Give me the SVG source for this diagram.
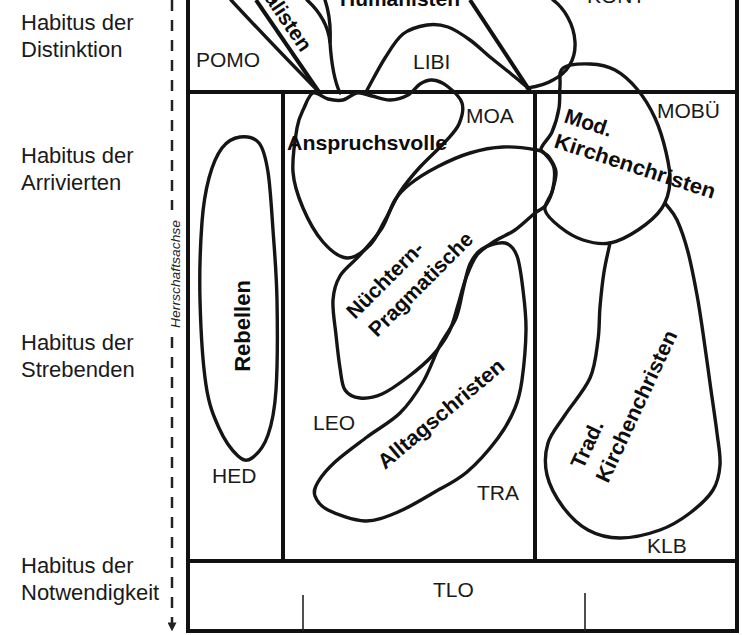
<svg xmlns="http://www.w3.org/2000/svg" width="742" height="635" viewBox="0 0 742 635">
<defs>
<style>
.frame{stroke:#111;stroke-width:4;fill:none;stroke-linecap:square}
.blob{stroke:#151515;stroke-width:3.4;fill:none;stroke-linejoin:round;stroke-linecap:round}
.tick{stroke:#222;stroke-width:1.6}
.axis{stroke:#222;stroke-width:2.5;stroke-dasharray:11 9;fill:none}
.lvl{font-family:"Liberation Sans",Arial,sans-serif;font-size:22px;fill:#1a1a1a}
.code{font-family:"Liberation Sans",Arial,sans-serif;font-size:21px;fill:#1a1a1a}
.type{font-family:"Liberation Sans",Arial,sans-serif;font-size:21px;font-weight:bold;fill:#0d0d0d}
.axl{font-family:"Liberation Sans",Arial,sans-serif;font-size:12px;font-style:italic;fill:#222}
</style>
<marker id="arr" viewBox="0 0 10 10" refX="4" refY="5" markerWidth="9" markerHeight="9" orient="auto" markerUnits="userSpaceOnUse">
<path d="M0,0 L10,5 L0,10 Z" style="fill:#222;stroke:none"/>
</marker>
</defs>
<rect x="0" y="0" width="742" height="635" fill="#fff"/>

<g id="levels">
<text class="lvl" x="21" y="30">Habitus der</text>
<text class="lvl" x="21" y="57">Distinktion</text>
<text class="lvl" x="21" y="163">Habitus der</text>
<text class="lvl" x="21" y="190">Arrivierten</text>
<text class="lvl" x="21" y="350">Habitus der</text>
<text class="lvl" x="21" y="377">Strebenden</text>
<text class="lvl" x="21" y="573">Habitus der</text>
<text class="lvl" x="21" y="600">Notwendigkeit</text>
</g>

<g id="connectors">
<line class="axis" x1="172" y1="0" x2="172" y2="210"/>
<line class="axis" x1="172" y1="337" x2="172" y2="626" marker-end="url(#arr)"/>
<text class="axl" transform="translate(180,274) rotate(-90)" text-anchor="middle" textLength="108" lengthAdjust="spacingAndGlyphs">Herrschaftsachse</text>
</g>

<g id="grid">
<line class="frame" x1="188" y1="0" x2="188" y2="631"/>
<line class="frame" x1="737" y1="0" x2="737" y2="631"/>
<line class="frame" x1="188" y1="92" x2="737" y2="92"/>
<line class="frame" x1="283" y1="92" x2="283" y2="561"/>
<line class="frame" x1="535" y1="92" x2="535" y2="561"/>
<line class="frame" x1="188" y1="561" x2="737" y2="561"/>
<line class="frame" x1="188" y1="631" x2="737" y2="631"/>
<line class="frame" x1="256" y1="0" x2="319" y2="92" style="stroke-linecap:butt"/>
<line class="frame" x1="470" y1="0" x2="530" y2="91" style="stroke-linecap:butt"/>
<line class="tick" x1="303" y1="595" x2="303" y2="631"/>
<line class="tick" x1="585" y1="593" x2="585" y2="631"/>
</g>

<g id="zones">
<text class="code" x="196" y="67">POMO</text>
<text class="code" x="413" y="69">LIBI</text>
<text class="code" x="587" y="3">KONT</text>
<text class="code" x="466" y="123">MOA</text>
<text class="code" x="657" y="118">MOBÜ</text>
<text class="code" x="313" y="430">LEO</text>
<text class="code" x="212" y="483">HED</text>
<text class="code" x="477" y="500">TRA</text>
<text class="code" x="647" y="553">KLB</text>
<text class="code" x="433" y="597">TLO</text>
</g>

<g id="alisten">
<path class="blob" d="M231,0 Q270,42 318,91"/>
<text class="type" transform="translate(264,-2) rotate(56)">alisten</text>
</g>

<g id="humanisten">
<path class="blob" d="M307,0 C318,10 328,25 330,42 C331,58 333,78 340,93"/>
<path class="blob" d="M325,0 C329,12 331,25 330,42"/>
<path class="blob" d="M553,0 C564,8 574,24 575,42 C576,60 567,73 553,80 C543,86 534,87 527,88"/>
<text class="type" x="340" y="6" textLength="120" lengthAdjust="spacingAndGlyphs">Humanisten</text>
</g>

<g id="libi-hump">
<path class="blob" d="M366,92 C372.3,80.7 378.8,67.7 385,58 S396,39.5 403,34 S419.5,26.2 427,25 S440.8,24.5 448,27 S463,35 470,40 S483.3,51.5 490,57 S503.8,68 510,73 S521.3,82.3 527,87"/>
</g>

<g id="rebellen">
<path class="blob" d="M240,137 C246.2,136.2 254.3,137.2 259,143 S265.7,157.5 268,172 S271.5,208.7 273,230 S276.5,273.3 277,300 S277.5,367.5 276,390 S272,423.7 268,435 S257,454.5 252,458 S243.5,461 238,456 S224.3,439.8 219,428 S209.2,406.3 206,385 S200.7,327.2 200,300 S200.5,242.3 202,222 S205.7,190.3 209,178 S216.8,154.8 222,148 S233.8,137.8 240,137 Z"/>
<text class="type" transform="translate(250,326) rotate(-90)" text-anchor="middle" style="font-size:22px">Rebellen</text>
</g>

<g id="anspruchsvolle">
<path class="blob" d="M313,93 C317,91.5 323,97.8 328,99 S338.2,101 343,100 S352.2,93.7 357,93 S366.5,94.8 372,96 S384,100.2 390,100 S403,97.7 408,95 S416,86.5 420,84 S427.5,79.7 432,80 S442,82.2 447,86 S460,96.7 462,103 S461.8,117.5 459,124 S451.5,134.8 445,142 S427.5,158.7 420,167 S405.8,183.2 400,192 S390,211.2 385,220 S376.3,238.7 370,245 S354.8,258.5 347,258 S330.3,250.3 323,242 S308,219.7 303,208 S294,185.3 293,172 S295.2,138.7 297,128 S301.3,113.8 304,108 S309,94.5 313,93 Z"/>
<text class="type" x="287" y="150" textLength="160" lengthAdjust="spacingAndGlyphs">Anspruchsvolle</text>
</g>

<g id="nuechtern">
<path class="blob" d="M537,150 C529.8,148.7 514.2,146.5 503,147 S481,149.7 470,153 S447,161.8 437,167 S417,178.5 410,184 S399.7,192.7 395,200 S387.8,218.8 382,228 S367,247 360,255 S344.5,268.5 340,276 S333.7,290.2 333,300 S334.8,323.7 336,335 S338.5,358.8 340,368 S341.7,385 345,390 S353.8,397.3 360,398 S374,397.5 382,394 S399.7,383.3 408,377 S425.2,363.5 432,356 S444.7,340.5 449,332 S455.2,314 458,305 S462.8,286.3 466,278 S472.2,261.2 477,255 S488.7,245.2 495,241 S508.3,234.7 515,230 S529.8,217.2 535,213 S543,209.2 546,205 S551.7,194.2 553,188 S555.2,173.5 554,168 S548.8,158 546,155 S544.2,151.3 537,150 Z"/>
<text class="type" transform="translate(355,320) rotate(-45)">Nüchtern-</text>
<text class="type" transform="translate(377,338) rotate(-45)">Pragmatische</text>
</g>

<g id="alltagschristen">
<path class="blob" d="M482,249 C487.8,245.5 499.2,241.8 505,243 S514,248.2 517,256 S521.5,277.7 523,290 S526.2,315 526,330 S523.8,367 522,380 S519,398.3 515,408 S506,427.3 498,438 S477.8,462.8 467,472 S444.5,486.3 433,493 S409.3,507.3 398,512 S376.7,521.3 365,521 S336.3,514.2 328,510 S316.7,500.7 315,496 S314.7,487.7 318,482 S326.8,469.5 335,462 S356.2,445.2 367,437 S390.7,422.2 400,413 S416.3,393.3 423,382 S434.5,355.7 440,345 S452.2,327.2 456,318 S460.7,299 463,290 S466.8,270.8 470,264 S476.2,252.5 482,249 Z"/>
<text class="type" transform="translate(385,470) rotate(-40)" textLength="158" lengthAdjust="spacingAndGlyphs">Alltagschristen</text>
</g>

<g id="mod-kirchenchristen">
<path class="blob" d="M563,68 C568,64.3 581.3,63.7 590,64 S607.2,65.8 615,70 S630.3,81 637,89 S650.2,107.5 655,118 S663.5,141.3 666,152 S670.7,172.7 670,182 S667.3,200 662,208 S646.7,224.2 638,230 S619.2,241.3 610,243 S591.3,242.7 583,240 S566.3,232 560,227 S546.3,215.8 545,210 S550.2,198.3 552,192 S556.5,177.8 556,172 S551.5,160.8 549,157 S540.5,153.2 541,149 S549,138.8 552,132 S557.7,115.7 559,108 S559.3,92.7 560,86 S558,71.7 563,68 Z"/>
<text class="type" transform="translate(563,122) rotate(18)">Mod.</text>
<text class="type" transform="translate(553,147) rotate(18)" textLength="168" lengthAdjust="spacingAndGlyphs">Kirchenchristen</text>
</g>

<g id="trad-kirchenchristen">
<path class="blob" d="M610,243 C608,252.7 605.7,261.3 604,272 S601,295.7 600,307 S599.7,328.2 598,340 S595.5,365.5 590,378 S572,404.2 565,415 S551,433 548,443 S544.5,464.3 547,475 S556.2,497.8 563,507 S578.5,524.8 588,530 S608,538 620,538 S648.3,534.2 660,530 S681.2,519.7 690,513 S708,498 713,490 S719.3,474.5 720,465 S718.7,446.7 717,433 S712.3,399.7 710,383 S705.2,347.7 703,333 S699.5,308.5 697,295 S691.3,264.5 688,252 S680.8,228.2 677,220 S669,208.7 665,203"/>
<text class="type" transform="translate(583,470) rotate(-65)">Trad.</text>
<text class="type" transform="translate(608,484) rotate(-65)" textLength="165" lengthAdjust="spacingAndGlyphs">Kirchenchristen</text>
</g>
</svg>
